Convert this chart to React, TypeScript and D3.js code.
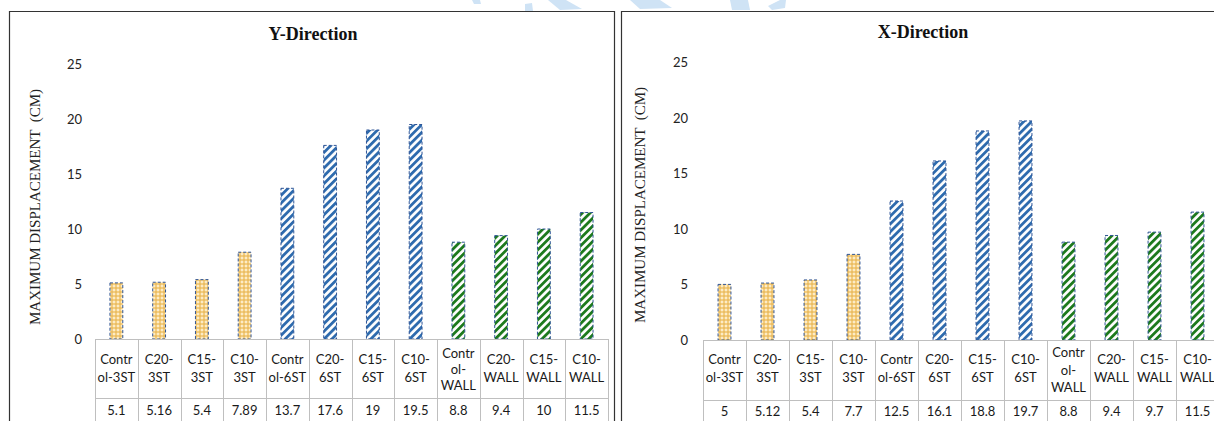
import React from "react";
import * as d3 from "d3";

const categories = [
  "Control-3ST", "C20-3ST", "C15-3ST", "C10-3ST",
  "Control-6ST", "C20-6ST", "C15-6ST", "C10-6ST",
  "Control-WALL", "C20-WALL", "C15-WALL", "C10-WALL",
];
const yDirection = [5.1, 5.16, 5.4, 7.89, 13.7, 17.6, 19, 19.5, 8.8, 9.4, 10, 11.5];
const xDirection = [5, 5.12, 5.4, 7.7, 12.5, 16.1, 18.8, 19.7, 8.8, 9.4, 9.7, 11.5];
const yTicks = [0, 5, 10, 15, 20, 25];
const yAxisTitle = "MAXIMUM DISPLACEMENT  (CM)";

const groupFill: Record<string, string> = {
  "3ST": "url(#lattice)",
  "6ST": "url(#blueStripe)",
  "WALL": "url(#greenStripe)",
};

function wrapLabel(name: string): string[] {
  if (name.startsWith("Control-")) {
    const suffix = name.slice(8);
    const rest = "ol-" + suffix;
    return rest.length > 6 ? ["Contr", "ol-", suffix] : ["Contr", rest];
  }
  const i = name.indexOf("-");
  return [name.slice(0, i + 1), name.slice(i + 1)];
}

type PanelCfg = {
  title: string;
  values: number[];
  panelLeft: number;
  panelRight: number;
  plotLeft: number;
  plotRight: number;
  yZero: number;
  yTop: number;
  titleX: number;
  titleY: number;
  labelX: number;
  labelY: number;
  tickX: number;
  tableMid: number;
  catLines2: [number, number];
  catLines3: [number, number, number];
  valueY: number;
};

const sansFont = "Lato, 'Open Sans', sans-serif";
const serifFont = "'Liberation Serif', 'Times New Roman', serif";

function Panel({ cfg }: { cfg: PanelCfg }) {
  const x = d3.scaleBand<string>().domain(categories).range([cfg.plotLeft, cfg.plotRight]).padding(0);
  const y = d3.scaleLinear().domain([0, 25]).range([cfg.yZero, cfg.yTop]);
  const step = x.step();
  const barW = step * 0.3;
  const tableBottom = 440;
  return (
    <g>
      <path
        d={`M${cfg.panelLeft},${tableBottom} V11.5 H${cfg.panelRight} V${tableBottom}`}
        fill="none"
        stroke="#333"
        strokeWidth={1.2}
      />
      <text
        x={cfg.titleX}
        y={cfg.titleY}
        textAnchor="middle"
        fontFamily={serifFont}
        fontWeight="bold"
        fontSize={18}
        fill="#111"
      >
        {cfg.title}
      </text>
      <text
        transform={`translate(${cfg.labelX},${cfg.labelY}) rotate(-90)`}
        textAnchor="middle"
        dominantBaseline="central"
        fontFamily={serifFont}
        fontSize={15}
        fill="#222"
        style={{ whiteSpace: "pre" }}
      >
        {yAxisTitle}
      </text>
      {yTicks.map((t) => (
        <text
          key={t}
          x={cfg.tickX}
          y={y(t)}
          textAnchor="end"
          dominantBaseline="central"
          fontFamily={sansFont}
          fontSize={13}
          fill="#222"
        >
          {t}
        </text>
      ))}
      {categories.map((c, i) => {
        const v = cfg.values[i];
        const group = c.split("-").pop() as string;
        const bx = (x(c) as number) + (step - barW) / 2;
        return (
          <rect
            key={c}
            x={bx}
            y={y(v)}
            width={barW}
            height={y(0) - y(v)}
            fill={groupFill[group]}
            stroke="#2F5597"
            strokeWidth={1}
            strokeDasharray="3 2"
          />
        );
      })}
      <g stroke="#BFBFBF" strokeWidth={1} fill="none">
        <line x1={cfg.plotLeft} x2={cfg.plotRight} y1={cfg.yZero + 0.5} y2={cfg.yZero + 0.5} />
        <line x1={cfg.plotLeft} x2={cfg.plotRight} y1={cfg.tableMid + 0.5} y2={cfg.tableMid + 0.5} />
        {categories.map((c) => (
          <line
            key={c}
            x1={Math.round(x(c) as number) + 0.5}
            x2={Math.round(x(c) as number) + 0.5}
            y1={cfg.yZero}
            y2={tableBottom}
          />
        ))}
        <line
          x1={Math.round(cfg.plotRight) + 0.5}
          x2={Math.round(cfg.plotRight) + 0.5}
          y1={cfg.yZero}
          y2={tableBottom}
        />
      </g>
      {categories.map((c, i) => {
        const lines = wrapLabel(c);
        const ys = lines.length === 3 ? cfg.catLines3 : cfg.catLines2;
        const cx = (x(c) as number) + step / 2;
        return (
          <g key={c} fontFamily={sansFont} fontSize={13} fill="#1a1a1a" textAnchor="middle">
            {lines.map((l, k) => (
              <text key={k} x={cx} y={ys[k]} dominantBaseline="central">
                {l}
              </text>
            ))}
            <text x={cx} y={cfg.valueY} dominantBaseline="central">
              {String(cfg.values[i])}
            </text>
          </g>
        );
      })}
    </g>
  );
}

const leftCfg: PanelCfg = {
  title: "Y-Direction",
  values: yDirection,
  panelLeft: 9.5,
  panelRight: 614.5,
  plotLeft: 95,
  plotRight: 608,
  yZero: 339,
  yTop: 64,
  titleX: 313,
  titleY: 40,
  labelX: 35,
  labelY: 207,
  tickX: 82,
  tableMid: 398,
  catLines2: [359, 377],
  catLines3: [353, 369, 385],
  valueY: 410,
};

const rightCfg: PanelCfg = {
  title: "X-Direction",
  values: xDirection,
  panelLeft: 621.5,
  panelRight: 1240,
  plotLeft: 703,
  plotRight: 1219,
  yZero: 340,
  yTop: 62,
  titleX: 923,
  titleY: 38,
  labelX: 640,
  labelY: 205,
  tickX: 688,
  tableMid: 400,
  catLines2: [359, 377],
  catLines3: [352, 370, 387],
  valueY: 411,
};

export default function App() {
  return (
    <svg
      width={1214}
      height={421}
      style={{ position: "absolute", left: 0, top: 0, background: "#fff" }}
    >
      <defs>
        <pattern id="lattice" patternUnits="userSpaceOnUse" width={4} height={4}>
          <rect width={4} height={4} fill="#F3CD7E" />
          <circle cx={2} cy={2} r={1} fill="#FFF6E0" />
          <circle cx={0} cy={0} r={0.7} fill="#DCA23A" />
          <circle cx={4} cy={0} r={0.7} fill="#DCA23A" />
          <circle cx={0} cy={4} r={0.7} fill="#DCA23A" />
          <circle cx={4} cy={4} r={0.7} fill="#DCA23A" />
        </pattern>
        <pattern
          id="blueStripe"
          patternUnits="userSpaceOnUse"
          width={5.5}
          height={5.5}
          patternTransform="rotate(45)"
        >
          <rect width={5.5} height={5.5} fill="#fff" />
          <rect width={2.8} height={5.5} fill="#2E6BAE" />
        </pattern>
        <pattern
          id="greenStripe"
          patternUnits="userSpaceOnUse"
          width={5.5}
          height={5.5}
          patternTransform="rotate(45)"
        >
          <rect width={5.5} height={5.5} fill="#fff" />
          <rect width={2.8} height={5.5} fill="#1D7A1D" />
        </pattern>
      </defs>
      <rect width={1214} height={421} fill="#fff" />
      <g fill="#CFE3F5">
        <path d="M472,0 L480,0 L481,4 L474,4 Z" />
        <path d="M525,4 L532,3 L533,11 L525,11 Z" />
        <path d="M548,0 L566,0 L582,9 L560,10 Z" />
        <path d="M630,0 L660,0 L672,8 L640,9 Z" />
        <path d="M730,0 L748,0 L750,10 L732,10 Z" />
        <path d="M768,6 L780,0 L786,0 L785,8 L772,10 Z" />
      </g>
      <Panel cfg={leftCfg} />
      <Panel cfg={rightCfg} />
    </svg>
  );
}
